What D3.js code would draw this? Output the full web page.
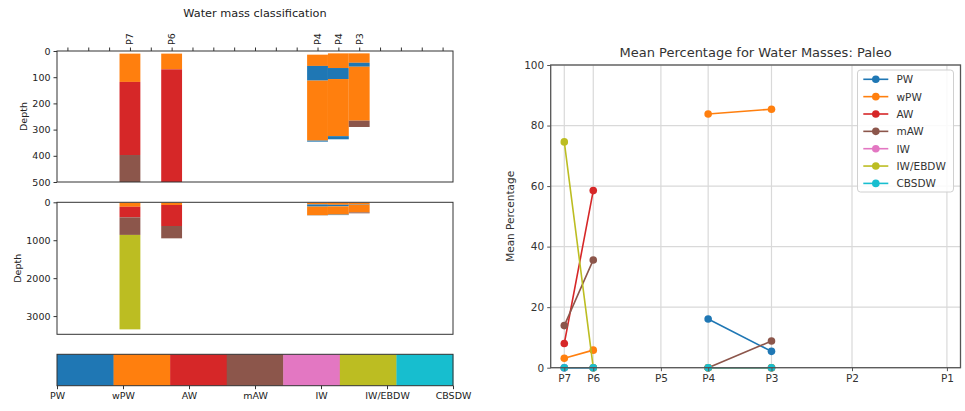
<!DOCTYPE html>
<html>
<head>
<meta charset="utf-8">
<script src="https://cdn.jsdelivr.net/npm/d3@7"></script>
<style>
  html, body { margin: 0; padding: 0; background: #fff; }
  svg { display: block; font-family: "DejaVu Sans", sans-serif; }
</style>
</head>
<body>
<svg id="chart" width="965" height="411"></svg>
<script>
// ---------------- DATA ----------------
// Left: water mass classes (colour bar order)
const waterMasses = ["PW", "wPW", "AW", "mAW", "IW", "IW/EBDW", "CBSDW"];
const massColors = ["#1f77b4", "#ff7f0e", "#d62728", "#8c564b", "#e377c2", "#bcbd22", "#17becf"];

// profiles along the section (x index) and their labels
const profileLabels = ["P7", "P6", "P4", "P4", "P3"];
const profileIndex = [3, 5, 12, 13, 14];
const sectionTicks = d3.range(0, 19);

// depth layers for each profile: [top depth, bottom depth, water mass]
const layersP7 = [[10, 118, "wPW"], [118, 397, "AW"], [397, 860, "mAW"], [860, 3350, "IW/EBDW"]];
const layersP6 = [[10, 70, "wPW"], [70, 625, "AW"], [625, 950, "mAW"]];
const layersP4a = [[14, 57, "wPW"], [57, 113, "PW"], [113, 342, "wPW"], [342, 346, "PW"]];
const layersP4b = [[9, 65, "wPW"], [65, 107, "PW"], [107, 325, "wPW"], [325, 337, "PW"]];
const layersP3 = [[9, 45, "wPW"], [45, 60, "PW"], [60, 266, "wPW"], [266, 290, "mAW"]];
const profileLayers = [layersP7, layersP6, layersP4a, layersP4b, layersP3];

const topDepthTicks = [0, 100, 200, 300, 400, 500];
const fullDepthTicks = [0, 1000, 2000, 3000];
const topDepthMax = 500;
const fullDepthMax = 3480;

// Right: mean percentage per station
const stations = ["P7", "P6", "P5", "P4", "P3", "P2", "P1"];
const stationPos = [0, 29, 96.7, 144, 207.4, 288, 383];
const stationLimits = [-13.6, 396.6];
const pctTicks = [0, 20, 40, 60, 80, 100];
const meanPW = [0, 0, null, 16.1, 5.4, null, null];
const meanWPW = [3.1, 5.8, null, 83.8, 85.4, null, null];
const meanAW = [8.0, 58.5, null, 0, 0, null, null];
const meanMAW = [13.9, 35.6, null, 0, 8.8, null, null];
const meanIW = [0, 0, null, 0, 0, null, null];
const meanIWEBDW = [74.6, 0, null, 0, 0, null, null];
const meanCBSDW = [0, 0, null, 0, 0, null, null];
const meanSeries = [meanPW, meanWPW, meanAW, meanMAW, meanIW, meanIWEBDW, meanCBSDW];

// ---------------- DRAW ----------------
const svg = d3.select("#chart");
const colorOf = d3.scaleOrdinal().domain(waterMasses).range(massColors);
const axisColor = "#333";
const textColor = "#222";

// ===== Left figure =====
const L = 57, R = 453;
const x = d3.scaleLinear().domain([-0.5, 18.5]).range([L, R]);
const bw = x(1) - x(0);

svg.append("text").attr("x", (L + R) / 2).attr("y", 17)
  .attr("text-anchor", "middle").attr("font-size", 11.3).attr("fill", textColor)
  .text("Water mass classification");

function depthPanel(top, bottom, maxDepth, ticks, withTop) {
  const y = d3.scaleLinear().domain([0, maxDepth]).range([top, bottom]);
  const g = svg.append("g");
  const clipId = "clip" + Math.round(top);
  g.append("clipPath").attr("id", clipId).append("rect")
    .attr("x", L).attr("y", top).attr("width", R - L).attr("height", bottom - top);
  const bars = g.append("g").attr("clip-path", `url(#${clipId})`);
  profileLayers.forEach((layers, i) => {
    layers.forEach(([d0, d1, m]) => {
      bars.append("rect")
        .attr("x", x(profileIndex[i]) - bw / 2)
        .attr("width", bw)
        .attr("y", y(d0))
        .attr("height", Math.max(0, y(d1) - y(d0)))
        .attr("fill", colorOf(m));
    });
  });
  // frame
  g.append("rect").attr("x", L).attr("y", top).attr("width", R - L).attr("height", bottom - top)
    .attr("fill", "none").attr("stroke", axisColor).attr("stroke-width", 1);
  // y axis
  const ya = g.append("g").attr("transform", `translate(${L},0)`)
    .call(d3.axisLeft(y).tickValues(ticks).tickSize(3.5).tickPadding(3).tickFormat(d3.format("d")));
  ya.select(".domain").remove();
  ya.selectAll("line").attr("stroke", axisColor);
  ya.selectAll("text").attr("font-size", 9.5).attr("fill", textColor).attr("font-family", "DejaVu Sans");
  g.append("text")
    .attr("transform", `translate(${withTop ? 23 : 17},${(top + bottom) / 2}) rotate(-90)`)
    .attr("text-anchor", "middle").attr("dominant-baseline", "central")
    .attr("font-size", 9.5).attr("fill", textColor).text("Depth");
  if (withTop) {
    const xa = g.append("g").attr("transform", `translate(0,${top})`)
      .call(d3.axisTop(x).tickValues(sectionTicks).tickSize(3.5).tickFormat(() => ""));
    xa.select(".domain").remove();
    xa.selectAll("line").attr("stroke", axisColor);
    profileIndex.forEach((p, i) => {
      g.append("text")
        .attr("transform", `translate(${x(p)},${top - 6}) rotate(-90)`)
        .attr("dominant-baseline", "central")
        .attr("font-size", 9.5).attr("fill", textColor).text(profileLabels[i]);
    });
  }
}
depthPanel(51, 182, topDepthMax, topDepthTicks, true);
depthPanel(202.3, 334.3, fullDepthMax, fullDepthTicks, false);

// colour bar
const cbTop = 354.3, cbBot = 385.7;
const cbx = d3.scaleLinear().domain([0, waterMasses.length]).range([L, R]);
svg.append("g").selectAll("rect").data(waterMasses).join("rect")
  .attr("x", (d, i) => cbx(i)).attr("width", (d, i) => cbx(i + 1) - cbx(i) + 0.3)
  .attr("y", cbTop).attr("height", cbBot - cbTop)
  .attr("fill", d => colorOf(d));
svg.append("rect").attr("x", L).attr("y", cbTop).attr("width", R - L).attr("height", cbBot - cbTop)
  .attr("fill", "none").attr("stroke", axisColor).attr("stroke-width", 1);
const cbTicks = d3.scaleLinear().domain([0, waterMasses.length - 1]).range([L, R]);
const cba = svg.append("g").attr("transform", `translate(0,${cbBot})`)
  .call(d3.axisBottom(cbTicks).tickValues(d3.range(waterMasses.length)).tickSize(3.5).tickPadding(3)
    .tickFormat(i => waterMasses[i]));
cba.select(".domain").remove();
cba.selectAll("line").attr("stroke", axisColor);
cba.selectAll("text").attr("font-size", 9.5).attr("fill", textColor).attr("font-family", "DejaVu Sans");

// ===== Right figure =====
const rL = 550.7, rR = 960.5, rT = 65, rB = 367.7;
const xs = d3.scaleLinear().domain(stationLimits).range([rL, rR]);
const ys = d3.scaleLinear().domain([0, 100]).range([rB, rT]);
const rg = svg.append("g");
const gridColor = "#d9d9d9";
rg.append("g").selectAll("line").data(stationPos).join("line")
  .attr("x1", d => xs(d)).attr("x2", d => xs(d)).attr("y1", rT).attr("y2", rB)
  .attr("stroke", gridColor).attr("stroke-width", 1.2);
rg.append("g").selectAll("line").data(pctTicks).join("line")
  .attr("x1", rL).attr("x2", rR).attr("y1", d => ys(d)).attr("y2", d => ys(d))
  .attr("stroke", gridColor).attr("stroke-width", 1.2);

const clipR = rg.append("clipPath").attr("id", "clipR").append("rect")
  .attr("x", rL).attr("y", rT - 6).attr("width", rR - rL).attr("height", rB - rT + 12);
const line = d3.line().defined(d => d[1] !== null).x(d => xs(d[0])).y(d => ys(d[1]));
meanSeries.forEach((vals, si) => {
  const pts = vals.map((v, i) => [stationPos[i], v]);
  rg.append("path").attr("d", line(pts)).attr("fill", "none")
    .attr("stroke", massColors[si]).attr("stroke-width", 1.6);
  rg.append("g").selectAll("circle").data(pts.filter(p => p[1] !== null)).join("circle")
    .attr("cx", d => xs(d[0])).attr("cy", d => ys(d[1])).attr("r", 3.8)
    .attr("fill", massColors[si]);
});

rg.append("rect").attr("x", rL).attr("y", rT).attr("width", rR - rL).attr("height", rB - rT)
  .attr("fill", "none").attr("stroke", "#555").attr("stroke-width", 1.3);
const rxa = rg.append("g").attr("transform", `translate(0,${rB})`)
  .call(d3.axisBottom(xs).tickValues(stationPos).tickSize(3.5).tickPadding(3)
    .tickFormat((d, i) => stations[i]));
rxa.select(".domain").remove();
rxa.selectAll("line").attr("stroke", "#555");
rxa.selectAll("text").attr("font-size", 10.5).attr("fill", "#333").attr("font-family", "DejaVu Sans");
const rya = rg.append("g").attr("transform", `translate(${rL},0)`)
  .call(d3.axisLeft(ys).tickValues(pctTicks).tickSize(3.5).tickPadding(3));
rya.select(".domain").remove();
rya.selectAll("line").attr("stroke", "#555");
rya.selectAll("text").attr("font-size", 10.5).attr("fill", "#333").attr("font-family", "DejaVu Sans");
rg.append("text").attr("transform", `translate(510,${(rT + rB) / 2}) rotate(-90)`)
  .attr("text-anchor", "middle").attr("dominant-baseline", "central")
  .attr("font-size", 10.5).attr("fill", "#333").text("Mean Percentage");
rg.append("text").attr("x", (rL + rR) / 2).attr("y", 57)
  .attr("text-anchor", "middle").attr("font-size", 13).attr("fill", "#333")
  .text("Mean Percentage for Water Masses: Paleo");

// legend
const lg = rg.append("g");
lg.append("rect").attr("x", 857.5).attr("y", 70).attr("width", 96).attr("height", 122)
  .attr("rx", 3).attr("fill", "#fff").attr("fill-opacity", 0.85)
  .attr("stroke", "#d0d0d0").attr("stroke-width", 1);
waterMasses.forEach((m, i) => {
  const yy = 79.3 + i * 17.35;
  lg.append("line").attr("x1", 863.3).attr("x2", 888.3).attr("y1", yy).attr("y2", yy)
    .attr("stroke", massColors[i]).attr("stroke-width", 1.6);
  lg.append("circle").attr("cx", 875.8).attr("cy", yy).attr("r", 3.8).attr("fill", massColors[i]);
  lg.append("text").attr("x", 896.5).attr("y", yy).attr("dominant-baseline", "central")
    .attr("font-size", 10.5).attr("fill", "#333").text(m);
});
</script>
</body>
</html>
